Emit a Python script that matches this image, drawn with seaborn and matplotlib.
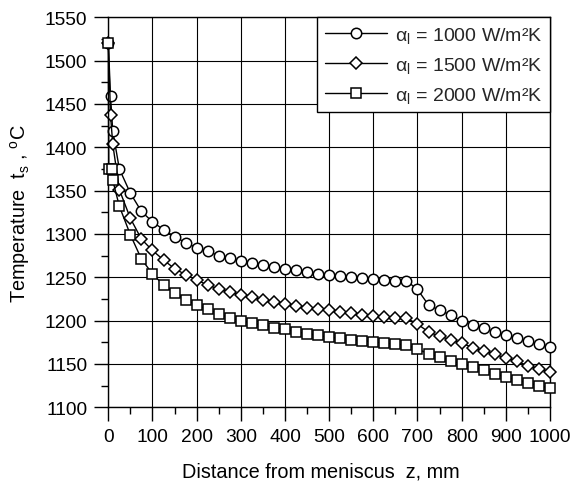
import numpy as np
import pandas as pd
import matplotlib
matplotlib.use('Agg')
import matplotlib.pyplot as plt
from matplotlib.ticker import MultipleLocator
import seaborn as sns

# distance from meniscus z [mm] and surface temperature t_s [C]
z_1000 = [0, 5, 10, 25, 50, 75, 100, 125, 150, 175, 200, 225, 250, 275, 300, 325, 350,
          375, 400, 425, 450, 475, 500, 525, 550, 575, 600, 625, 650, 675, 700, 725,
          750, 775, 800, 825, 850, 875, 900, 925, 950, 975, 1000]
t_1000 = [1520, 1459, 1419, 1375, 1347, 1326, 1314, 1305, 1297, 1290, 1284, 1280, 1275,
          1272, 1269, 1266.5, 1264, 1262, 1260, 1258, 1256, 1254, 1253, 1251.5, 1250,
          1249, 1248, 1247, 1246, 1246, 1236, 1218, 1212, 1206.5, 1200, 1195, 1191,
          1187, 1183.5, 1180, 1176, 1173, 1170]

z_1500 = [0, 5, 10, 25, 50, 75, 100, 125, 150, 175, 200, 225, 250, 275, 300, 325, 350,
          375, 400, 425, 450, 475, 500, 525, 550, 575, 600, 625, 650, 675, 700, 725,
          750, 775, 800, 825, 850, 875, 900, 925, 950, 975, 1000]
t_1500 = [1520, 1437, 1404, 1351, 1318, 1294, 1281, 1270, 1260, 1253, 1247, 1241, 1236.5,
          1233, 1230, 1227, 1224, 1222, 1219, 1217, 1215, 1213.5, 1212, 1210, 1208.5,
          1207, 1205.5, 1204, 1203, 1203, 1196, 1187, 1182, 1178, 1174, 1169, 1165,
          1161, 1157, 1153, 1148, 1144, 1141]

z_2000 = [0, 1, 9, 10, 25, 50, 75, 100, 125, 150, 175, 200, 225, 250, 275, 300, 325, 350,
          375, 400, 425, 450, 475, 500, 525, 550, 575, 600, 625, 650, 675, 700, 725,
          750, 775, 800, 825, 850, 875, 900, 925, 950, 975, 1000]
t_2000 = [1520, 1375, 1375, 1362, 1332, 1299, 1271, 1254, 1241, 1232, 1224, 1218, 1213,
          1208, 1203, 1200, 1197, 1195, 1192, 1190, 1187, 1185, 1183, 1181, 1179.5, 1178,
          1177, 1175.5, 1174, 1173, 1172, 1167, 1162, 1158, 1154, 1150, 1147, 1143,
          1138.5, 1135, 1131.5, 1128, 1125, 1122]

labels = ['α$_\\mathregular{l}$ = 1000 W/m²K',
          'α$_\\mathregular{l}$ = 1500 W/m²K',
          'α$_\\mathregular{l}$ = 2000 W/m²K']

sns.set_theme(style='ticks')
plt.rcParams['font.family'] = ['Liberation Sans', 'DejaVu Sans']
plt.rcParams['mathtext.default'] = 'regular'

fig, ax = plt.subplots(figsize=(5.74, 4.89), dpi=100)
fig.subplots_adjust(left=0.1887, right=0.9582, top=0.9626, bottom=0.165)

series = [(z_1000, t_1000, 'o', 7.5), (z_1500, t_1500, 'D', 5.8), (z_2000, t_2000, 's', 6.5)]
for (z, t, mk, ms), lab in zip(series, labels):
    sns.lineplot(x=z, y=t, ax=ax, color='black', linewidth=1, marker=mk, markersize=ms,
                 markerfacecolor='white', markeredgecolor='black', markeredgewidth=1.1,
                 label=lab, estimator=None, sort=False, clip_on=False, zorder=3)

ax.set_xlim(0, 1000)
ax.set_ylim(1100, 1550)
ax.xaxis.set_major_locator(MultipleLocator(100))
ax.xaxis.set_minor_locator(MultipleLocator(50))
ax.yaxis.set_major_locator(MultipleLocator(50))
ax.yaxis.set_minor_locator(MultipleLocator(25))
ax.tick_params(which='major', direction='out', length=10, width=1, color='black',
               labelsize=13.8, labelcolor='black', pad=5)
ax.tick_params(which='minor', direction='out', length=5, width=1, color='black')
ax.grid(True, which='major', color='black', linewidth=0.8)
for sp in ax.spines.values():
    sp.set_color('black')
    sp.set_linewidth(1)
    sp.set_visible(True)

ax.set_xlabel('Distance from meniscus  z, mm', fontsize=14.3, color='black')
ax.xaxis.set_label_coords(0.48, -0.14)
ax.set_ylabel('Temperature  t$_\\mathregular{s}$ , $^\\mathregular{o}$C', fontsize=14.3,
              color='black', labelpad=9)

leg = ax.legend(loc='upper right', borderaxespad=0, frameon=True, fancybox=False,
                edgecolor='black', framealpha=1, handlelength=3.2, handletextpad=0.4,
                fontsize=14, borderpad=0.4, labelspacing=0.5)
leg.get_frame().set_linewidth(1)
leg.set_zorder(5)

plt.savefig('out.png', dpi=100)
